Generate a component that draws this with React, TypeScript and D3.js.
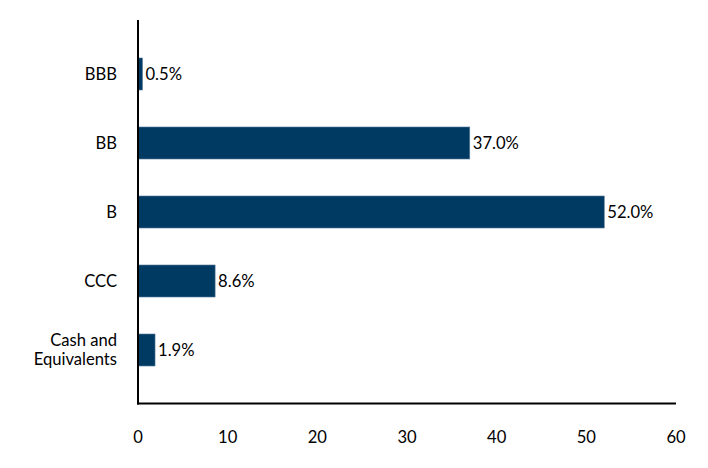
import React from "react";
import * as d3 from "d3";

const categories = ["BBB", "BB", "B", "CCC", "Cash and Equivalents"];
const categoryLines = [["BBB"], ["BB"], ["B"], ["CCC"], ["Cash and", "Equivalents"]];
const values = [0.5, 37.0, 52.0, 8.6, 1.9];
const valueLabels = ["0.5%", "37.0%", "52.0%", "8.6%", "1.9%"];
const xTicks = [0, 10, 20, 30, 40, 50, 60];

const W = 708;
const H = 468;
const FONT = "Lato, 'Open Sans', sans-serif";
const FS = 16.6;

export default function App() {
  const x = d3.scaleLinear().domain([0, 60]).range([138, 676]);
  const y = d3
    .scaleBand<string>()
    .domain(categories)
    .range([39.5, 384.5])
    .paddingInner(0.536)
    .paddingOuter(0.268);
  const bw = y.bandwidth();
  return (
    <svg
      width={W}
      height={H}
      style={{ position: "absolute", left: 0, top: 0, background: "#fff" }}
      fontFamily={FONT}
    >
      {categories.map((c, i) => {
        const y0 = y(c)!;
        const cy = y0 + bw / 2;
        const lines = categoryLines[i];
        const lh = 19;
        return (
          <g key={c}>
            <rect
              x={x(0)}
              y={y0}
              width={x(values[i]) - x(0)}
              height={bw}
              fill="#003a63"
              stroke="#5a7d9a"
              strokeWidth={0.6}
            />
            <text
              x={x(values[i]) + 3}
              y={cy}
              dy="0.35em"
              fontSize={FS}
              fill="#000"
            >
              {valueLabels[i]}
            </text>
            {lines.map((l, k) => (
              <text
                key={k}
                x={117}
                y={cy + (k - (lines.length - 1) / 2) * lh}
                dy="0.35em"
                textAnchor="end"
                fontSize={FS}
                fill="#000"
              >
                {l}
              </text>
            ))}
          </g>
        );
      })}
      <line x1={x(0)} x2={x(0)} y1={20} y2={404.5} stroke="#000" strokeWidth={2} />
      <line x1={x(0) - 1} x2={x(60)} y1={403.5} y2={403.5} stroke="#000" strokeWidth={2} />
      {xTicks.map((t) => (
        <text
          key={t}
          x={x(t)}
          y={437}
          dy="0.35em"
          textAnchor="middle"
          fontSize={FS}
          fill="#000"
        >
          {t}
        </text>
      ))}
    </svg>
  );
}
